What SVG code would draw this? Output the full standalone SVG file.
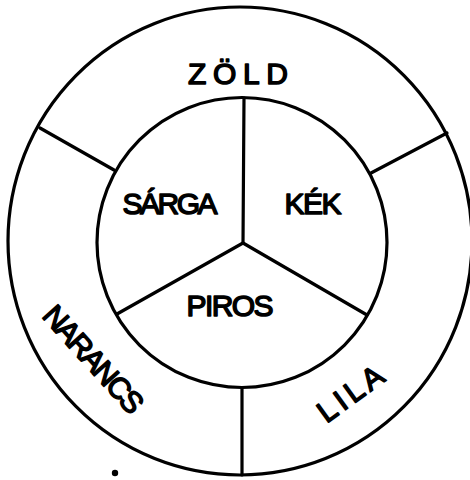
<svg xmlns="http://www.w3.org/2000/svg" width="470" height="480" viewBox="0 0 470 480">
<style>
.ln{fill:none;stroke:#000;stroke-width:3.2;stroke-linecap:round}
.lb{font-family:"Liberation Sans",Arial,sans-serif;font-size:30px;fill:#000;stroke:#000;stroke-width:1.5;stroke-linejoin:round;text-anchor:middle}
</style>
<rect width="470" height="480" fill="#fff"/>
<g id="rings">
<ellipse class="ln" cx="240" cy="241" rx="232" ry="234"/>
<circle class="ln" cx="242" cy="242.5" r="145"/>
</g>
<g id="connectors">
<line class="ln" x1="244" y1="98" x2="243" y2="243"/>
<line class="ln" x1="243" y1="243" x2="117" y2="314"/>
<line class="ln" x1="243" y1="243" x2="367" y2="315"/>
<line class="ln" x1="40" y1="128" x2="114" y2="170"/>
<line class="ln" x1="371" y1="173" x2="447" y2="133"/>
<line class="ln" x1="242" y1="388" x2="242" y2="475"/>
</g>
<g id="zold"><text class="lb" x="238" y="84" textLength="100">ZÖLD</text></g>
<g id="sarga"><text class="lb" x="170" y="214" textLength="95">SÁRGA</text></g>
<g id="kek"><text class="lb" x="313" y="214" textLength="57">KÉK</text></g>
<g id="piros"><text class="lb" x="230" y="316" textLength="87">PIROS</text></g>
<g id="narancs"><text class="lb" transform="translate(94,359) rotate(48)" x="0" y="11" textLength="134">NARANCS</text></g>
<g id="lila"><text class="lb" transform="translate(350,393) rotate(-36)" x="0" y="11" textLength="74">LILA</text></g>
<circle cx="115" cy="473" r="3.2" fill="#000"/>
</svg>
